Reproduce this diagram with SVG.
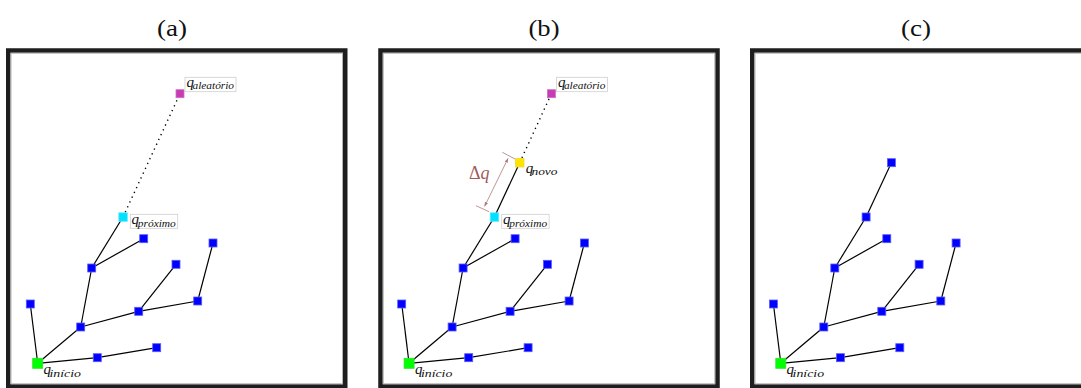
<svg xmlns="http://www.w3.org/2000/svg" width="1081" height="388" viewBox="0 0 1081 388">
<style>
.title{font-family:"Liberation Serif",serif;font-size:24px;fill:#111;text-anchor:middle}
.frame{fill:#fff;stroke:#1e1e1e;stroke-width:4.5}
.inner{fill:none;stroke:#b4b4b4;stroke-width:1}
.edge{stroke:#000;stroke-width:1.2;fill:none}
.dot{stroke:#000;stroke-width:1.4;stroke-dasharray:1.3 4;fill:none}
.b{fill:#0000ff;stroke:#5a5aff;stroke-width:0.8}
.g{fill:#00ff00;stroke:#30e030;stroke-width:0.8}
.c{fill:#00e0ff;stroke:#60e8ff;stroke-width:0.8}
.m{fill:#c63cb4;stroke:#d070c4;stroke-width:0.8}
.y{fill:#ffe400;stroke:#f0d840;stroke-width:0.8}
.lbox{fill:#fff;stroke:#cfcfcf;stroke-width:0.8}
.q{font-family:"Liberation Serif",serif;font-style:italic;font-size:15px;fill:#111}
.s{font-family:"Liberation Serif",serif;font-style:italic;font-size:10.5px;fill:#111}
.dim{stroke:#b58a8a;stroke-width:0.9;fill:none}
.dq{font-family:"Liberation Serif",serif;font-size:18px;fill:#a05a5a}
</style>
<defs>
<marker id="ah" viewBox="0 0 8 8" refX="7.5" refY="4" markerWidth="5" markerHeight="5" orient="auto-start-reverse">
<path d="M0,1 L8,4 L0,7 z" fill="#b07a7a"/>
</marker>
</defs>

<text class="title" x="172" y="36" textLength="30" lengthAdjust="spacingAndGlyphs">(a)</text>
<text class="title" x="544" y="36" textLength="31" lengthAdjust="spacingAndGlyphs">(b)</text>
<text class="title" x="916" y="36" textLength="30" lengthAdjust="spacingAndGlyphs">(c)</text>

<g id="frame-a"><rect class="frame" x="8.25" y="50.5" width="337" height="336"/><rect class="inner" x="11" y="53.25" width="331.5" height="330.5"/></g>
<g id="frame-b"><rect class="frame" x="380.5" y="50.5" width="337" height="336"/><rect class="inner" x="383.25" y="53.25" width="331.5" height="330.5"/></g>
<g id="frame-c"><rect class="frame" x="752.25" y="50.5" width="337" height="336"/><rect class="inner" x="755" y="53.25" width="331.5" height="330.5"/></g>

<!-- Panel (a) -->
<g id="panel-a">
<g id="connectors-a">
<line class="edge" x1="37.7" y1="363.3" x2="30.3" y2="304"/>
<line class="edge" x1="37.7" y1="363.3" x2="80.7" y2="327"/>
<line class="edge" x1="37.7" y1="363.3" x2="97.3" y2="357.7"/>
<line class="edge" x1="97.3" y1="357.7" x2="156.7" y2="347.7"/>
<line class="edge" x1="80.7" y1="327" x2="138.7" y2="311.3"/>
<line class="edge" x1="138.7" y1="311.3" x2="197.7" y2="301"/>
<line class="edge" x1="197.7" y1="301" x2="213" y2="243"/>
<line class="edge" x1="138.7" y1="311.3" x2="176" y2="264.3"/>
<line class="edge" x1="80.7" y1="327" x2="91.7" y2="268"/>
<line class="edge" x1="91.7" y1="268" x2="143.7" y2="238.7"/>
<line class="edge" x1="91.7" y1="268" x2="123" y2="217"/>
<line class="dot" x1="123" y1="217" x2="180" y2="93.7"/>
</g>
<g id="a-n1"><rect class="b" x="26.3" y="300" width="8" height="8"/></g>
<g id="a-n2"><rect class="b" x="76.7" y="323" width="8" height="8"/></g>
<g id="a-n3"><rect class="b" x="93.3" y="353.7" width="8" height="8"/></g>
<g id="a-n4"><rect class="b" x="152.7" y="343.7" width="8" height="8"/></g>
<g id="a-n5"><rect class="b" x="134.7" y="307.3" width="8" height="8"/></g>
<g id="a-n6"><rect class="b" x="193.7" y="297" width="8" height="8"/></g>
<g id="a-n7"><rect class="b" x="172" y="260.3" width="8" height="8"/></g>
<g id="a-n8"><rect class="b" x="209" y="239" width="8" height="8"/></g>
<g id="a-n9"><rect class="b" x="87.7" y="264" width="8" height="8"/></g>
<g id="a-n10"><rect class="b" x="139.7" y="234.7" width="8" height="8"/></g>
<g id="a-inicio"><rect class="g" x="32.7" y="358.3" width="10" height="10"/><text class="q" x="43.5" y="374">q</text><text class="s" x="49.5" y="377" textLength="31.5" lengthAdjust="spacingAndGlyphs">início</text></g>
<g id="a-proximo"><rect class="c" x="118.8" y="212.8" width="8.5" height="8.5"/><rect class="lbox" x="130.3" y="214.3" width="47.4" height="14"/><text class="q" x="131.5" y="224">q</text><text class="s" x="137.8" y="226.5" textLength="38" lengthAdjust="spacingAndGlyphs">próximo</text></g>
<g id="a-aleatorio"><rect class="m" x="176" y="89.7" width="8" height="8"/><rect class="lbox" x="185" y="77.3" width="51" height="14.4"/><text class="q" x="186.5" y="86.5">q</text><text class="s" x="192.5" y="88.5" textLength="41.5" lengthAdjust="spacingAndGlyphs">aleatório</text></g>
</g>

<!-- Panel (b) -->
<g id="panel-b">
<g id="connectors-b">
<line class="edge" x1="409.1" y1="363.3" x2="401.7" y2="304"/>
<line class="edge" x1="409.1" y1="363.3" x2="452.1" y2="327"/>
<line class="edge" x1="409.1" y1="363.3" x2="468.7" y2="357.7"/>
<line class="edge" x1="468.7" y1="357.7" x2="528.1" y2="347.7"/>
<line class="edge" x1="452.1" y1="327" x2="510.1" y2="311.3"/>
<line class="edge" x1="510.1" y1="311.3" x2="569.1" y2="301"/>
<line class="edge" x1="569.1" y1="301" x2="584.4" y2="243"/>
<line class="edge" x1="510.1" y1="311.3" x2="547.4" y2="264.3"/>
<line class="edge" x1="452.1" y1="327" x2="463.1" y2="268"/>
<line class="edge" x1="463.1" y1="268" x2="515.1" y2="238.7"/>
<line class="edge" x1="463.1" y1="268" x2="494.4" y2="217"/>
<line class="edge" x1="494.4" y1="217" x2="519.7" y2="162.7"/>
<line class="dot" x1="519.7" y1="162.7" x2="551.4" y2="93.7"/>
<line class="dim" x1="502.3" y1="152.3" x2="515" y2="159"/>
<line class="dim" x1="476" y1="205.7" x2="489" y2="211.7"/>
<line class="dim" x1="508" y1="158.5" x2="484.6" y2="206.3" marker-start="url(#ah)" marker-end="url(#ah)"/>
</g>
<g id="b-n1"><rect class="b" x="397.7" y="300" width="8" height="8"/></g>
<g id="b-n2"><rect class="b" x="448.1" y="323" width="8" height="8"/></g>
<g id="b-n3"><rect class="b" x="464.7" y="353.7" width="8" height="8"/></g>
<g id="b-n4"><rect class="b" x="524.1" y="343.7" width="8" height="8"/></g>
<g id="b-n5"><rect class="b" x="506.1" y="307.3" width="8" height="8"/></g>
<g id="b-n6"><rect class="b" x="565.1" y="297" width="8" height="8"/></g>
<g id="b-n7"><rect class="b" x="543.4" y="260.3" width="8" height="8"/></g>
<g id="b-n8"><rect class="b" x="580.4" y="239" width="8" height="8"/></g>
<g id="b-n9"><rect class="b" x="459.1" y="264" width="8" height="8"/></g>
<g id="b-n10"><rect class="b" x="511.1" y="234.7" width="8" height="8"/></g>
<g id="b-inicio"><rect class="g" x="404.1" y="358.3" width="10" height="10"/><text class="q" x="414.9" y="374">q</text><text class="s" x="420.9" y="377" textLength="31.5" lengthAdjust="spacingAndGlyphs">início</text></g>
<g id="b-proximo"><rect class="c" x="490.2" y="212.8" width="8.5" height="8.5"/><rect class="lbox" x="501.7" y="214.3" width="47.4" height="14"/><text class="q" x="502.9" y="224">q</text><text class="s" x="509.2" y="226.5" textLength="38" lengthAdjust="spacingAndGlyphs">próximo</text></g>
<g id="b-novo"><rect class="y" x="515.4" y="158.4" width="8.6" height="8.6"/><text class="q" x="525.7" y="173">q</text><text class="s" x="531.5" y="174.5" textLength="26" lengthAdjust="spacingAndGlyphs">novo</text></g>
<g id="b-aleatorio"><rect class="m" x="547.4" y="89.7" width="8" height="8"/><rect class="lbox" x="556.4" y="77.3" width="51" height="14.4"/><text class="q" x="557.9" y="86.5">q</text><text class="s" x="563.9" y="88.5" textLength="41.5" lengthAdjust="spacingAndGlyphs">aleatório</text></g>
<g id="b-deltaq"><text class="dq" x="469" y="178.5">Δ<tspan font-style="italic">q</tspan></text></g>
</g>

<!-- Panel (c) -->
<g id="panel-c">
<g id="connectors-c">
<line class="edge" x1="780.8" y1="363.3" x2="773.4" y2="304"/>
<line class="edge" x1="780.8" y1="363.3" x2="823.8" y2="327"/>
<line class="edge" x1="780.8" y1="363.3" x2="840.4" y2="357.7"/>
<line class="edge" x1="840.4" y1="357.7" x2="899.8" y2="347.7"/>
<line class="edge" x1="823.8" y1="327" x2="881.8" y2="311.3"/>
<line class="edge" x1="881.8" y1="311.3" x2="940.8" y2="301"/>
<line class="edge" x1="940.8" y1="301" x2="956.1" y2="243"/>
<line class="edge" x1="881.8" y1="311.3" x2="919.1" y2="264.3"/>
<line class="edge" x1="823.8" y1="327" x2="834.8" y2="268"/>
<line class="edge" x1="834.8" y1="268" x2="886.8" y2="238.7"/>
<line class="edge" x1="834.8" y1="268" x2="866.1" y2="217"/>
<line class="edge" x1="866.1" y1="217" x2="891.4" y2="162.7"/>
</g>
<g id="c-n1"><rect class="b" x="769.4" y="300" width="8" height="8"/></g>
<g id="c-n2"><rect class="b" x="819.8" y="323" width="8" height="8"/></g>
<g id="c-n3"><rect class="b" x="836.4" y="353.7" width="8" height="8"/></g>
<g id="c-n4"><rect class="b" x="895.8" y="343.7" width="8" height="8"/></g>
<g id="c-n5"><rect class="b" x="877.8" y="307.3" width="8" height="8"/></g>
<g id="c-n6"><rect class="b" x="936.8" y="297" width="8" height="8"/></g>
<g id="c-n7"><rect class="b" x="915.1" y="260.3" width="8" height="8"/></g>
<g id="c-n8"><rect class="b" x="952.1" y="239" width="8" height="8"/></g>
<g id="c-n9"><rect class="b" x="830.8" y="264" width="8" height="8"/></g>
<g id="c-n10"><rect class="b" x="882.8" y="234.7" width="8" height="8"/></g>
<g id="c-n11"><rect class="b" x="862.1" y="213" width="8" height="8"/></g>
<g id="c-n12"><rect class="b" x="887.4" y="158.7" width="8" height="8"/></g>
<g id="c-inicio"><rect class="g" x="775.8" y="358.3" width="10" height="10"/><text class="q" x="786.6" y="374">q</text><text class="s" x="792.6" y="377" textLength="31.5" lengthAdjust="spacingAndGlyphs">início</text></g>
</g>
</svg>
